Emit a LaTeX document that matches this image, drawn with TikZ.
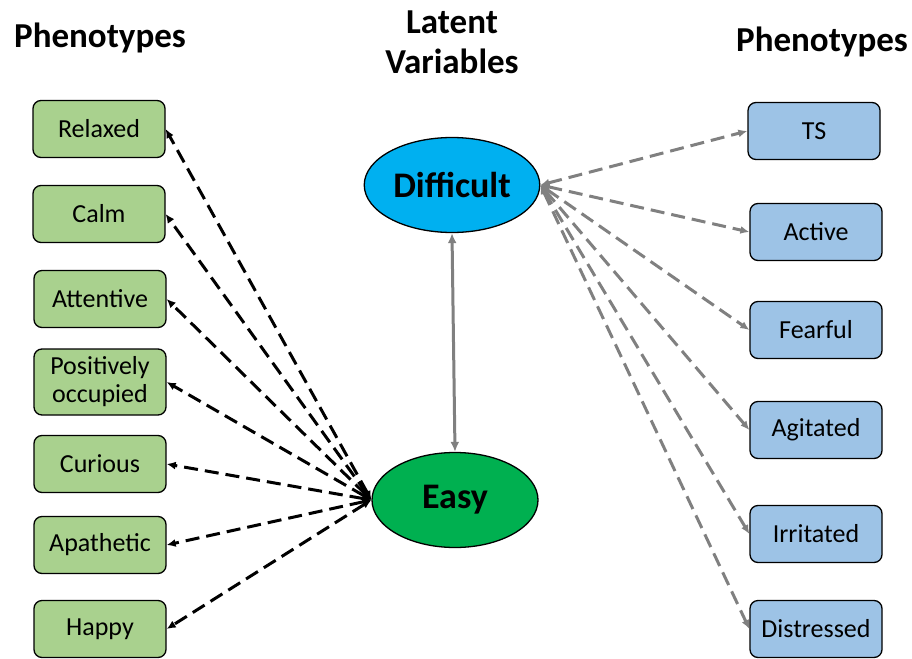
\documentclass[tikz,border=0pt]{standalone}
\usepackage{fontspec}
\setmainfont{Carlito}
\usetikzlibrary{arrows.meta,shapes.geometric}
\definecolor{leafgreen}{HTML}{A9D18E}
\definecolor{skyblue}{HTML}{9DC3E6}
\definecolor{latentblue}{HTML}{00B0F0}
\definecolor{latentgreen}{HTML}{00B050}
\definecolor{linkgrey}{HTML}{808080}
\begin{document}
\begin{tikzpicture}[x=1pt,y=-1pt,
  pheno/.style={draw=black,line width=1.3pt,rounded corners=8pt,minimum width=132pt,
    minimum height=57pt,align=center,font=\fontsize{26}{30}\selectfont,inner sep=2pt},
  leftbox/.style={pheno,fill=leafgreen},
  rightbox/.style={pheno,fill=skyblue},
  latent/.style={ellipse,draw=black,line width=1.3pt,minimum width=166pt,minimum height=95pt,
    font=\bfseries\fontsize{36}{40}\selectfont},
  heading/.style={font=\bfseries\fontsize{35}{40}\selectfont,align=center},
  blacklink/.style={{Latex[length=9pt,width=8pt]}-{Latex[length=9pt,width=8pt]},black,
    line width=3pt,dash pattern=on 14pt off 7pt},
  greylink/.style={{Latex[length=9pt,width=8pt]}-{Latex[length=9pt,width=8pt]},linkgrey,
    line width=3pt,dash pattern=on 14pt off 7pt},
  solidlink/.style={{Latex[length=10pt,width=9pt]}-{Latex[length=10pt,width=9pt]},linkgrey,line width=3pt}]
\useasboundingbox (0,0) rectangle (912,658);

% headings
\node[heading] (hl) at (100,38) {Phenotypes};
\node[heading] (hm) at (452,42) {Latent\\Variables};
\node[heading] (hr) at (822,42) {Phenotypes};

% latent variables
\node[latent,fill=latentblue] (diff) at (452,185) {Difficult};
\node[latent,fill=latentgreen] (easy) at (455,500) {\raisebox{-4pt}{Easy}};

% phenotypes on the left
\node[leftbox] (relaxed) at (99,129) {\raisebox{-2pt}{Relaxed}};
\node[leftbox] (calm) at (99,214) {\raisebox{-2pt}{Calm}};
\node[leftbox] (attentive) at (100,299) {\raisebox{-2pt}{Attentive}};
\node[leftbox,minimum height=66pt] (posocc) at (100,382) {Positively\\[-2pt]occupied};
\node[leftbox] (curious) at (100,464) {\raisebox{-2pt}{Curious}};
\node[leftbox] (apathetic) at (100,545) {\raisebox{-2pt}{Apathetic}};
\node[leftbox] (happy) at (100,629) {\raisebox{-2pt}{Happy}};

% phenotypes on the right
\node[rightbox] (ts) at (814,131) {TS};
\node[rightbox] (active) at (816,232) {Active};
\node[rightbox] (fearful) at (816,330) {Fearful};
\node[rightbox] (agitated) at (816,430) {Agitated};
\node[rightbox] (irritated) at (816,534) {Irritated};
\node[rightbox] (distressed) at (816,629) {Distressed};

% latent correlation
\draw[solidlink] (diff.south) -- (easy.north);

% loadings of Easy
\foreach \n in {relaxed,calm,attentive,posocc,curious,apathetic,happy}
  \draw[blacklink] (easy.west) -- (\n.east);

% loadings of Difficult
\foreach \n in {ts,active,fearful,agitated,irritated,distressed}
  \draw[greylink] (diff.east) -- (\n.west);
\end{tikzpicture}
\end{document}
